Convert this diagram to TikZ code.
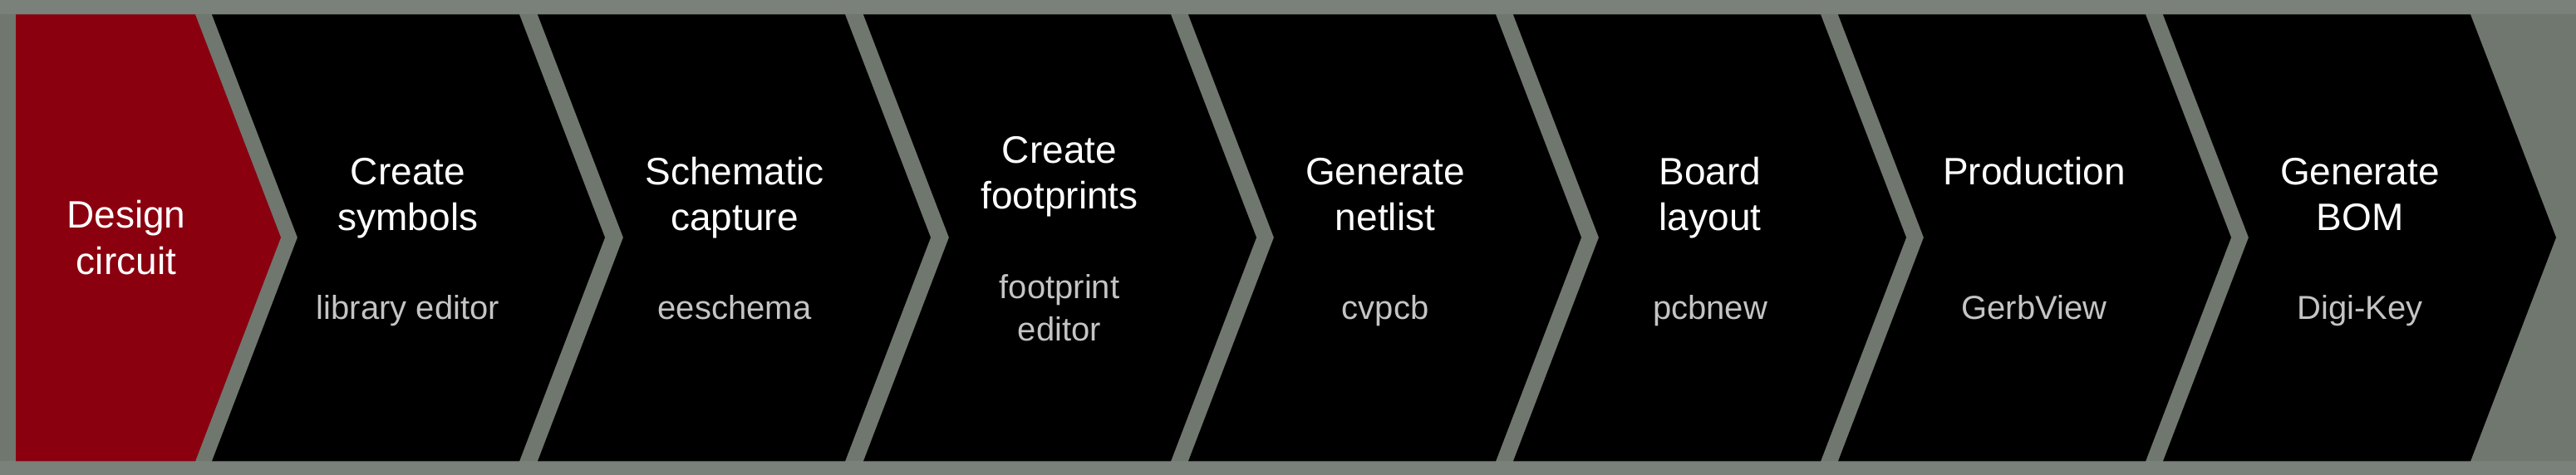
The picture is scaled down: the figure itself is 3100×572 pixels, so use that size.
\documentclass[tikz,border=0pt]{standalone}
\usepackage{fontspec}
\setmainfont{Liberation Sans}
\definecolor{bggray}{HTML}{70776F}
\definecolor{gapgray}{HTML}{7A817A}
\definecolor{stepred}{HTML}{8A000F}
\definecolor{subgray}{HTML}{C4C4C4}
\tikzset{
  x=1pt, y=1pt,
  chev/.style={fill=black, draw=none},
  firstchev/.style={fill=stepred, draw=none},
  ttl/.style={text=white, anchor=base, inner sep=0pt, font=\fontsize{46}{55}\selectfont},
  sub/.style={text=subgray, anchor=base, inner sep=0pt, font=\fontsize{40}{48}\selectfont},
}
\newcommand{\chevshape}[1]{% #1 = left x
  \path[chev] (#1,554.5) -- ++(370,0) -- ++(103,-268.5) -- ++(-103,-269.5) -- ++(-370,0) -- ++(103,269.5) -- cycle;
}
\begin{document}
\begin{tikzpicture}
\useasboundingbox (0,0) rectangle (3100,572);
\fill[bggray] (0,0) rectangle (3100,572);
\fill[gapgray] (0,554.5) rectangle (3100,572);
\fill[gapgray] (0,0) rectangle (3100,16.5);
% first (red) step
\path[firstchev] (19,554.5) -- (235,554.5) -- (338,286) -- (235,16.5) -- (19,16.5) -- cycle;
% black chevrons
\foreach \X in {255,647,1039,1430,1821,2212,2603} {\chevshape{\X}}
% texts
\node[ttl] (s1a) at (152,297.5) {Design};
\node[ttl] (s1b) at (152,241) {circuit};

\node[ttl] (s2a) at (491,349) {Create};
\node[ttl] (s2b) at (491,294) {symbols};
\node[sub] (s2c) at (491,187) {library editor};

\node[ttl] (s3a) at (884,349) {Schematic};
\node[ttl] (s3b) at (884,294) {capture};
\node[sub] (s3c) at (884,187) {eeschema};

\node[ttl] (s4a) at (1275,375) {Create};
\node[ttl] (s4b) at (1275,320) {footprints};
\node[sub] (s4c) at (1275,212.5) {footprint};
\node[sub] (s4d) at (1275,161.5) {editor};

\node[ttl] (s5a) at (1667,349) {Generate};
\node[ttl] (s5b) at (1667,294) {netlist};
\node[sub] (s5c) at (1667,187) {cvpcb};

\node[ttl] (s6a) at (2058,349) {Board};
\node[ttl] (s6b) at (2058,294) {layout};
\node[sub] (s6c) at (2058,187) {pcbnew};

\node[ttl] (s7a) at (2448,349) {Production};
\node[sub] (s7c) at (2448,187) {GerbView};

\node[ttl] (s8a) at (2840,349) {Generate};
\node[ttl] (s8b) at (2840,294) {BOM};
\node[sub] (s8c) at (2840,187) {Digi-Key};
\end{tikzpicture}
\end{document}
